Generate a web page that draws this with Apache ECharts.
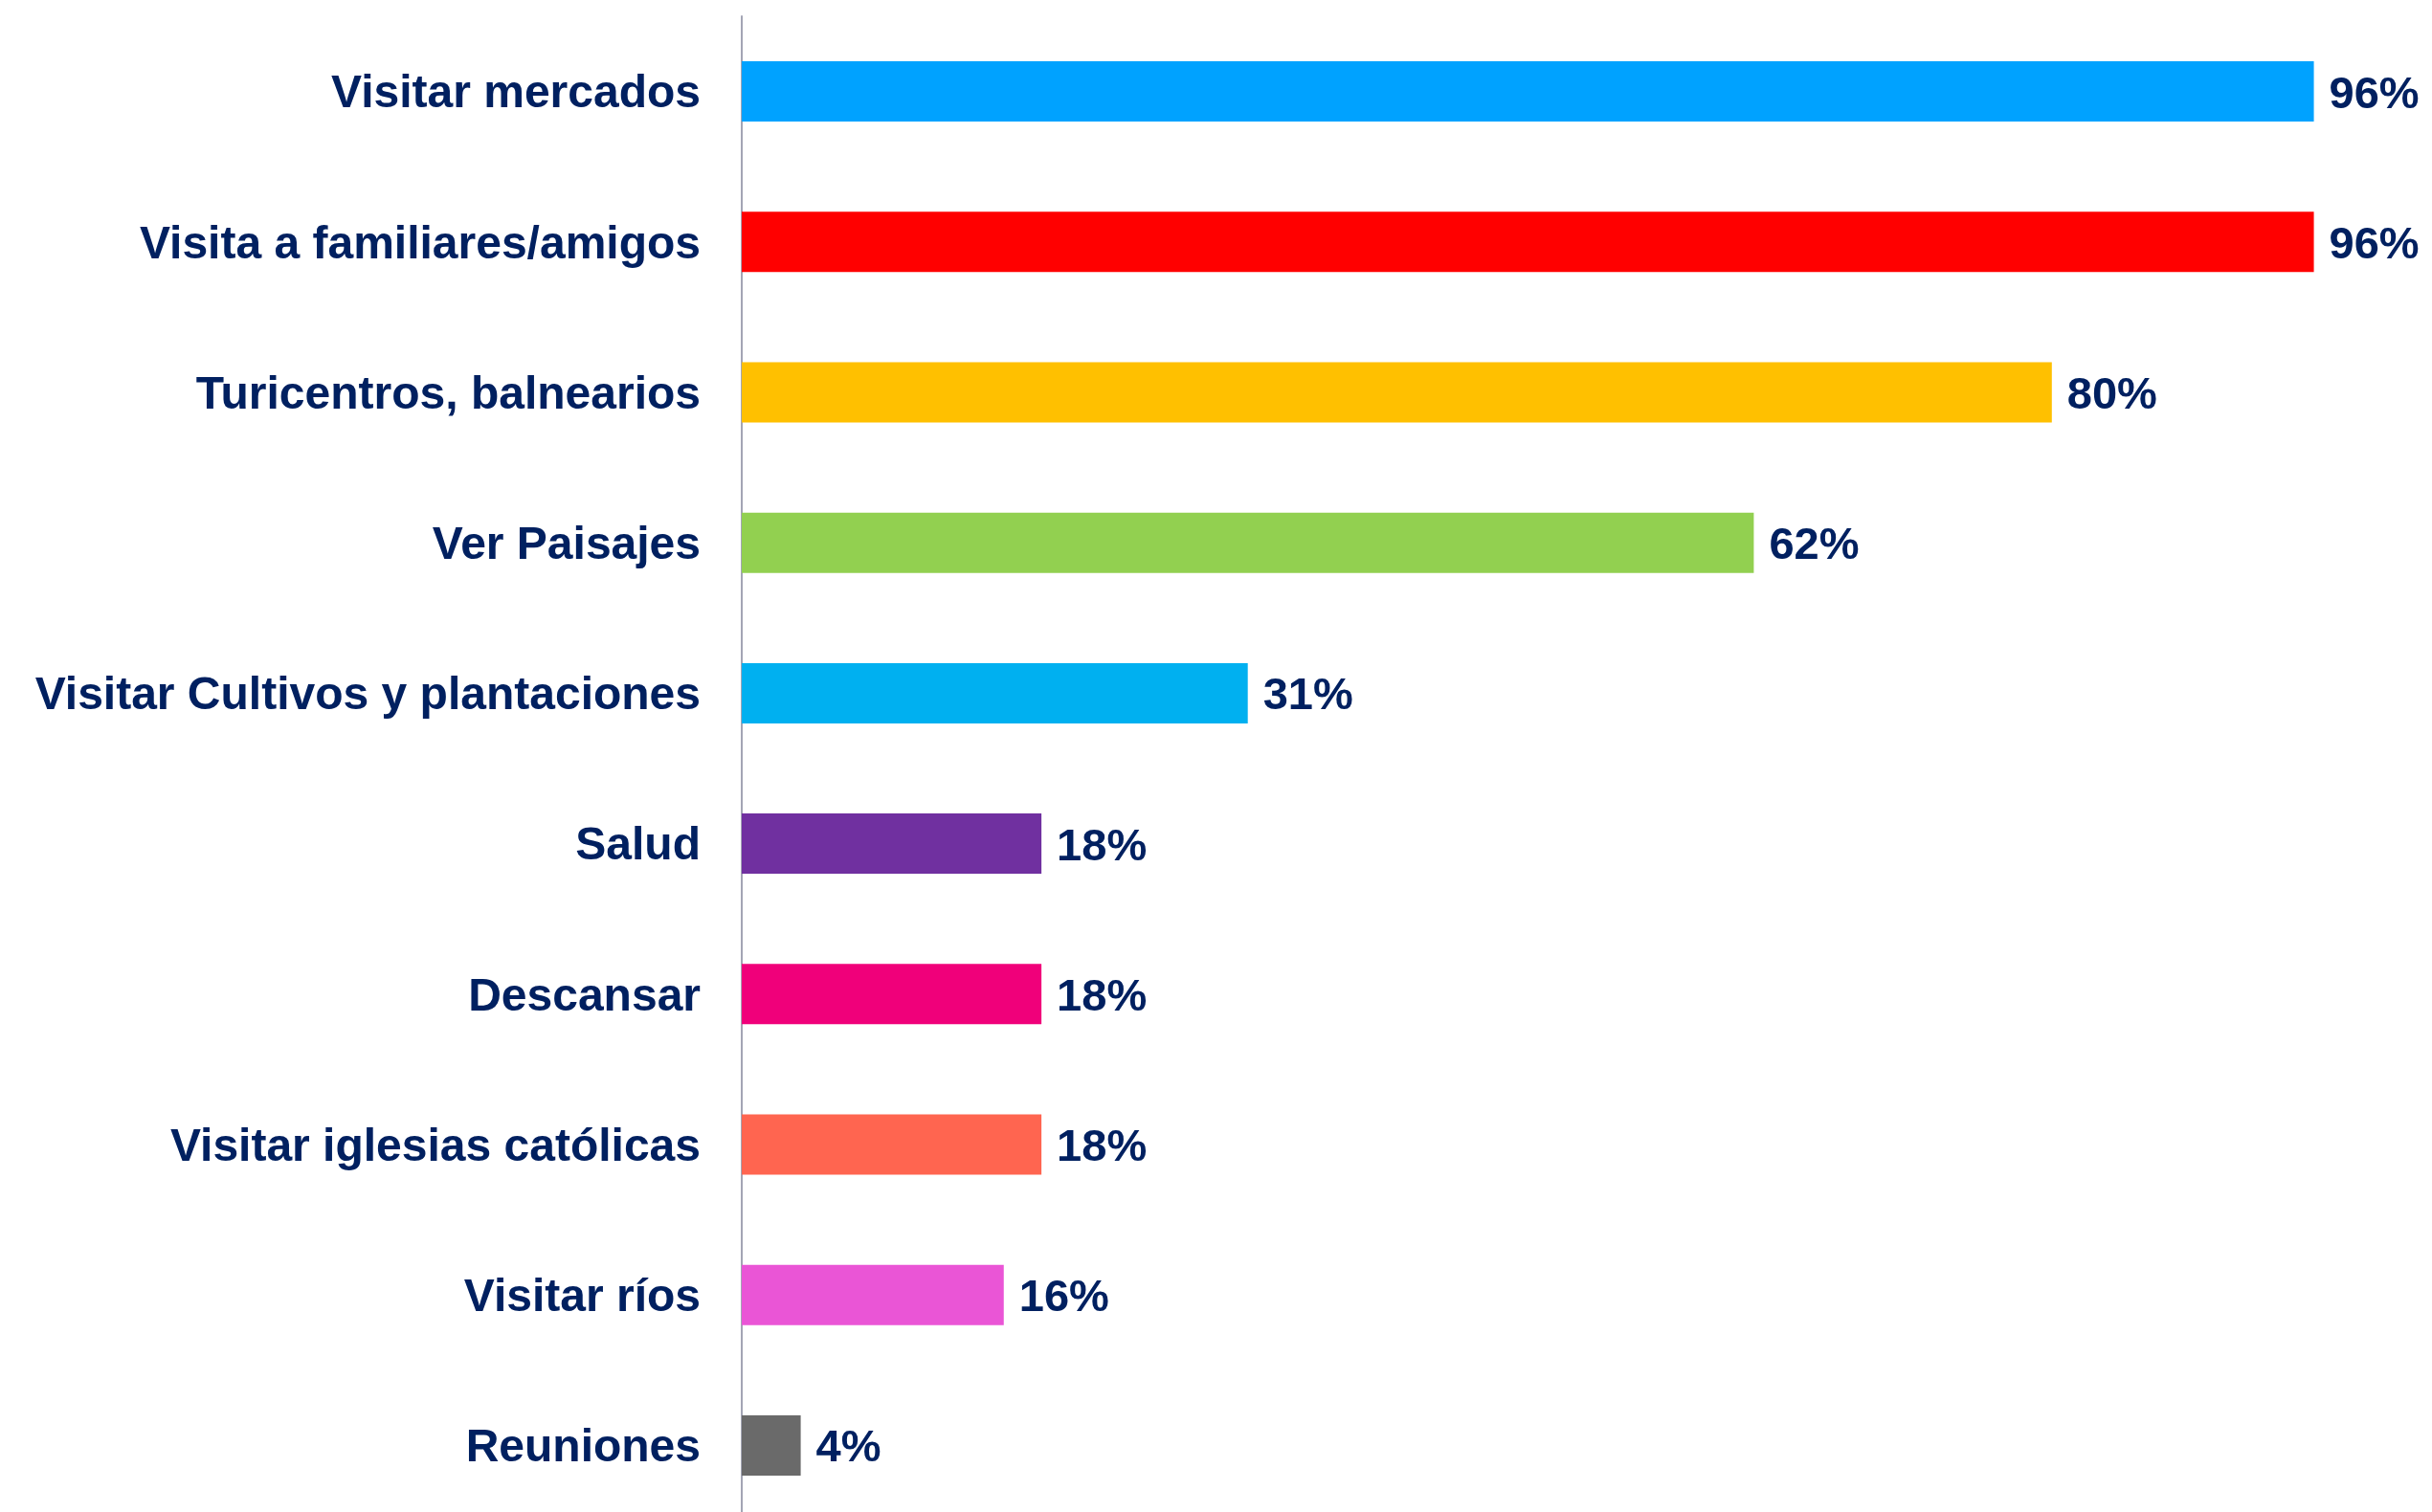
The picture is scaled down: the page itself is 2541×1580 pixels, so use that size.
<!DOCTYPE html>
<html>
<head>
<meta charset="utf-8">
<script src="https://cdn.jsdelivr.net/npm/echarts@6/dist/echarts.min.js"></script>
<style>
html,body{margin:0;padding:0;background:#ffffff;overflow:hidden;}
#chart{width:2541px;height:1580px;}
</style>
</head>
<body>
<div id="chart"></div>
<script>
const categories = [
  "Visitar mercados",
  "Visita a familiares/amigos",
  "Turicentros, balnearios",
  "Ver Paisajes",
  "Visitar Cultivos y plantaciones",
  "Salud",
  "Descansar",
  "Visitar iglesias católicas",
  "Visitar ríos",
  "Reuniones"
];
const values = [96, 96, 80, 61.8, 30.9, 18.3, 18.3, 18.3, 16, 3.6];
const barColors = [
  "#00A2FF", "#FF0000", "#FFC000", "#92D050", "#00B0F0",
  "#7030A0", "#F0007A", "#FF6550", "#EA55D6", "#6A6A6A"
];

const labelFont = '"Liberation Sans", Arial, sans-serif';
const chart = echarts.init(document.getElementById('chart'));
chart.setOption({
  backgroundColor: '#ffffff',
  animation: false,
  grid: { left: 775, right: 55, top: 17, height: 1572, containLabel: false, outerBoundsMode: 'none' },
  xAxis: {
    type: 'value', min: 0, max: 100, show: false
  },
  yAxis: {
    type: 'category',
    data: categories,
    inverse: true,
    axisLine: { show: true, lineStyle: { color: '#A3A5B5', width: 2 } },
    axisTick: { show: false },
    axisLabel: {
      margin: 43,
      formatter: v => '{c|' + v + '}',
      rich: {
        c: {
          color: '#002060',
          fontFamily: labelFont,
          fontWeight: 'bold',
          fontSize: 48,
          padding: [7, 0, 0, 0]
        }
      }
    },
    splitLine: { show: false }
  },
  series: [{
    type: 'bar',
    barWidth: 63,
    data: values.map((v, i) => ({ value: v, itemStyle: { color: barColors[i] } })),
    label: {
      show: true,
      position: 'right',
      distance: 16,
      offset: [0, 4],
      color: '#002060',
      fontFamily: labelFont,
      fontWeight: 'bold',
      fontSize: 47,
      formatter: p => Math.round(p.value) + '%'
    }
  }]
});
</script>
</body>
</html>
